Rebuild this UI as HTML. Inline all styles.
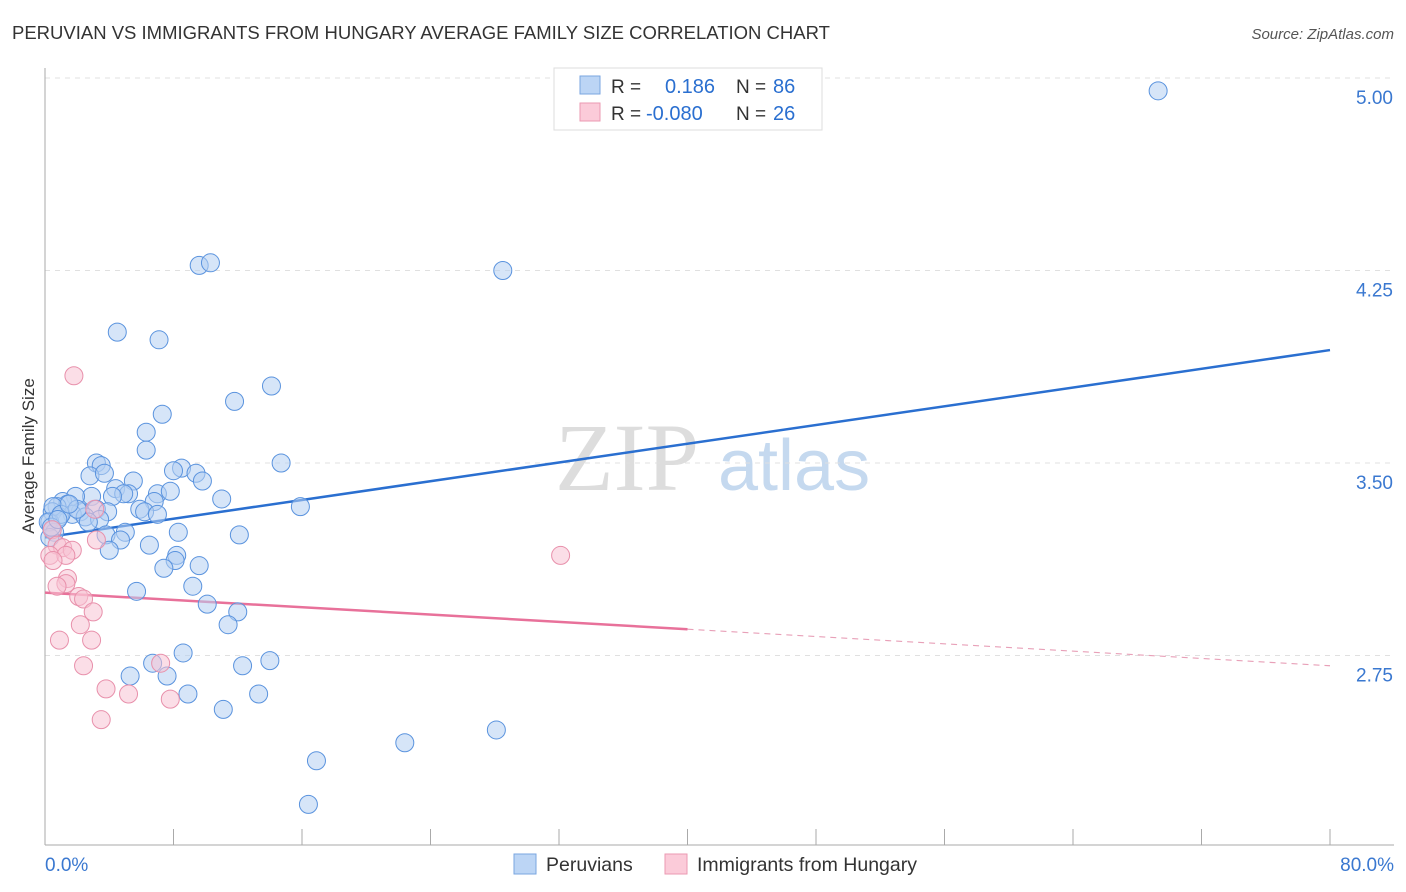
<!DOCTYPE html>
<html><head><meta charset="utf-8"><style>
body{margin:0;background:#fff;font-family:"Liberation Sans",sans-serif}
svg{display:block}
</style></head><body>
<svg width="1406" height="892" xmlns="http://www.w3.org/2000/svg">
<text x="12" y="39" font-size="18.5" fill="#333">PERUVIAN VS IMMIGRANTS FROM HUNGARY AVERAGE FAMILY SIZE CORRELATION CHART</text>
<text x="1394" y="39" font-size="15" fill="#555" text-anchor="end" font-style="italic">Source: ZipAtlas.com</text>
<g>
<text x="555" y="490" font-size="96" font-family="Liberation Serif,serif" fill="#ddd">ZIP</text>
<text x="718" y="490" font-size="72" fill="#c5d9ef">atlas</text>
</g>
<g id="grid"></g>
<g id="axes"></g>
<g id="lines"></g>
<g id="pts"></g>
<text transform="translate(34,456) rotate(-90)" font-size="17" fill="#333" text-anchor="middle">Average Family Size</text>
<g>
<rect x="554" y="68" width="268" height="62" fill="#fff" stroke="#ddd"/>
<rect x="580" y="76" width="20" height="18" fill="#bcd5f5" stroke="#7aa6e0"/>
<rect x="580" y="103" width="20" height="18" fill="#fbcbd9" stroke="#eb9ab2"/>
<text x="611" y="93" font-size="19" fill="#333">R =</text>
<text x="665" y="93" font-size="20" fill="#2a6fd0">0.186</text>
<text x="736" y="93" font-size="19" fill="#333">N =</text>
<text x="773" y="93" font-size="20" fill="#2a6fd0">86</text>
<text x="611" y="120" font-size="19" fill="#333">R =</text>
<text x="646" y="120" font-size="20" fill="#2a6fd0">-0.080</text>
<text x="736" y="120" font-size="19" fill="#333">N =</text>
<text x="773" y="120" font-size="20" fill="#2a6fd0">26</text>
</g>
<g>
<rect x="514" y="854" width="22" height="20" fill="#bcd5f5" stroke="#7aa6e0"/>
<text x="546" y="871" font-size="19.5" fill="#333">Peruvians</text>
<rect x="665" y="854" width="22" height="20" fill="#fbcbd9" stroke="#eb9ab2"/>
<text x="697" y="871" font-size="19.5" fill="#333">Immigrants from Hungary</text>
</g>
</svg>
<script>
const yTicks=[2.75,3.50,4.25,5.00];
const yTickLabels=["2.75","3.50","4.25","5.00"];
const xTickLabels=["0.0%","80.0%"];
const peruX=[69.3,9.6,10.3,28.5,4.5,7.1,14.1,11.8,7.3,6.3,6.3,14.7,3.2,3.5,8.5,8.0,9.4,2.8,3.7,9.8,5.5,4.4,5.2,7.0,7.8,4.9,4.2,2.9,1.9,11.0,6.8,1.1,1.4,0.75,15.9,3.2,5.9,6.2,3.9,2.2,0.45,7.0,1.7,2.5,3.4,0.9,2.7,0.3,8.3,5.0,3.8,12.1,4.7,6.5,4.0,8.2,8.1,9.6,7.4,9.2,5.7,10.1,12.0,11.4,8.6,6.7,14.0,12.3,7.6,5.3,8.9,13.3,11.1,28.1,22.4,16.9,16.4,0.5,0.2,0.6,0.3,1.0,0.4,0.8,2.0,1.5];
const peruY=[4.95,4.27,4.28,4.25,4.01,3.98,3.80,3.74,3.69,3.62,3.55,3.50,3.50,3.49,3.48,3.47,3.46,3.45,3.46,3.43,3.43,3.40,3.38,3.38,3.39,3.38,3.37,3.37,3.37,3.36,3.35,3.35,3.34,3.33,3.33,3.32,3.32,3.31,3.31,3.31,3.31,3.30,3.30,3.29,3.28,3.29,3.27,3.27,3.23,3.23,3.22,3.22,3.20,3.18,3.16,3.14,3.12,3.10,3.09,3.02,3.00,2.95,2.92,2.87,2.76,2.72,2.73,2.71,2.67,2.67,2.60,2.60,2.54,2.46,2.41,2.34,2.17,3.33,3.27,3.23,3.21,3.30,3.25,3.28,3.32,3.34];
const hungX=[1.8,32.1,0.45,0.75,1.1,1.7,0.3,1.3,1.4,1.3,0.75,2.1,2.4,3.0,2.2,3.2,0.9,2.9,2.4,7.2,3.8,5.2,7.8,3.5,3.1,0.5];
const hungY=[3.84,3.14,3.24,3.18,3.17,3.16,3.14,3.14,3.05,3.03,3.02,2.98,2.97,2.92,2.87,3.20,2.81,2.81,2.71,2.72,2.62,2.60,2.58,2.50,3.32,3.12];
const peruTrend=[3.21,3.94];
const hungTrend=[2.995,2.71];
const NS="http://www.w3.org/2000/svg";
const X=v=>45+(v/80)*1285, Y=v=>78+(5-v)*256.67;
function mk(p,t,a){const e=document.createElementNS(NS,t);for(const k in a)e.setAttribute(k,a[k]);p.appendChild(e);return e;}
const g=document.getElementById('grid'),ax=document.getElementById('axes'),ln=document.getElementById('lines'),pt=document.getElementById('pts');
yTicks.forEach((t,i)=>{
 const l=mk(g,'line',{x1:45,x2:1394,y1:Y(t),y2:Y(t),stroke:'#e0e0e0','stroke-dasharray':'5,5'});
 
 
 const tx=mk(ax,'text',{x:1393,y:Y(t)+26,'font-size':19,fill:'#3a78d0','text-anchor':'end'});
 tx.textContent=yTickLabels[i];
 
 
});
const yl=mk(ax,'line',{x1:45,x2:45,y1:68,y2:845,stroke:'#aaa'});


const xl=mk(ax,'line',{x1:45,x2:1394,y1:845,y2:845,stroke:'#aaa'});


for(let i=0;i<=10;i++){const t=mk(ax,'line',{x1:X(i*8),x2:X(i*8),y1:829,y2:845,stroke:'#aaa'});
 
 }
[[0,'start',45],[80,'end',1394]].forEach((d,i)=>{const t=mk(ax,'text',{x:d[2],y:871,'font-size':19,fill:'#3a78d0','text-anchor':d[1]});t.textContent=xTickLabels[i];
 
 });
function pts(xs,ys,f,s,n){xs.forEach((x,i)=>{const c=mk(pt,'circle',{cx:X(x),cy:Y(ys[i]),r:9,fill:f,'fill-opacity':0.55,stroke:s,'stroke-width':1});
 
 });}
pts(peruX,peruY,'#b5cff2','#5a93de','peruvian-point');
pts(hungX,hungY,'#f8c2d3','#e890ab','hungary-point');
const at=(tr,x)=>tr[0]+(tr[1]-tr[0])*x/80;
const b=mk(ln,'line',{x1:X(0),y1:Y(at(peruTrend,0)),x2:X(80),y2:Y(at(peruTrend,80)),stroke:'#2a6fd0','stroke-width':2.5});


const h=mk(ln,'line',{x1:X(0),y1:Y(at(hungTrend,0)),x2:X(40),y2:Y(at(hungTrend,40)),stroke:'#e8719a','stroke-width':2.5});


const hd=mk(ln,'line',{x1:X(40),y1:Y(at(hungTrend,40)),x2:X(80),y2:Y(at(hungTrend,80)),stroke:'#e8a0b8','stroke-width':1.2,'stroke-dasharray':'6,5'});


</script>
</body></html>
